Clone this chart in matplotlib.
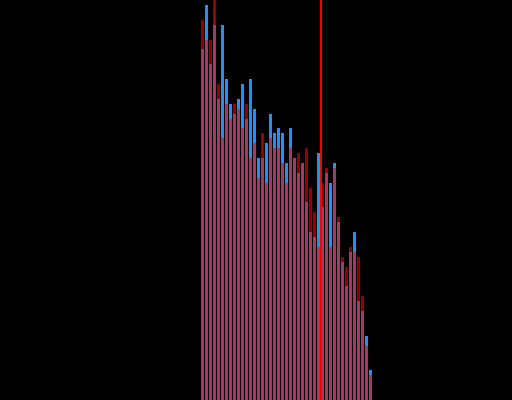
import numpy as np
import matplotlib
matplotlib.use("Agg")
import matplotlib.pyplot as plt

# Per-bin counts for the two overlaid histograms
blue_counts = [71, 80, 68, 76, 61, 76, 65, 60, 58, 61, 64, 57, 65, 59, 49, 49,
               52, 58, 54, 55, 54, 48, 55, 49, 46, 48, 40, 34, 33, 50, 39, 46,
               44, 48, 36, 28, 23, 30, 34, 20, 18, 13, 6]
red_counts = [77, 73, 73, 84, 64, 53, 60, 57, 60, 59, 55, 60, 49, 52, 45, 54,
              44, 53, 51, 51, 48, 44, 51, 49, 50, 48, 51, 43, 38, 31, 44, 47,
              31, 47, 37, 29, 27, 31, 30, 29, 21, 11, 5]
threshold = 29.5

fig = plt.figure(figsize=(5.12, 4.0), dpi=100, facecolor="black")
ax = fig.add_axes([0, 0, 1, 1])
ax.set_facecolor("black")
ax.axis("off")

x = np.arange(len(blue_counts))
ax.bar(x, blue_counts, width=0.75, color="#1e90ff", linewidth=0)
ax.bar(x, red_counts, width=0.75, color="red", alpha=0.6, linewidth=0)
ax.axvline(threshold, color="#ff0000", linewidth=1.44, zorder=5)

ax.set_xlim(-50.625, 77.375)
ax.set_ylim(0, 81)

fig.savefig("out.png", dpi=100, facecolor="black")
